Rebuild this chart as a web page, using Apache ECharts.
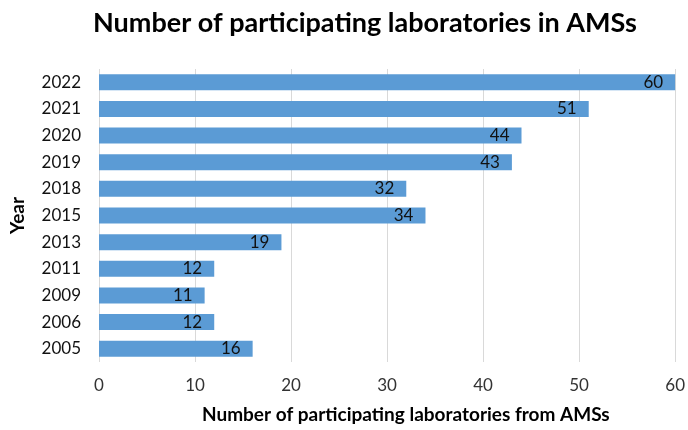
<!DOCTYPE html>
<html><head><meta charset="utf-8">
<script src="https://cdn.jsdelivr.net/npm/echarts@6/dist/echarts.min.js"></script>
<style>html,body{margin:0;padding:0;background:#fff}#c{width:688px;height:430px}</style>
</head><body><div id="c"></div>
<script>
const years = ['2005','2006','2009','2011','2013','2015','2018','2019','2020','2021','2022'];
const labs = [16, 12, 11, 12, 19, 34, 32, 43, 44, 51, 60];
const xTicks = [0, 10, 20, 30, 40, 50, 60];

const chart = echarts.init(document.getElementById('c'), null, {renderer: 'canvas'});
const fontFam = 'Lato, "Open Sans", sans-serif';
chart.setOption({
  animation: false,
  backgroundColor: '#fff',
  title: [{
    text: 'Number of participating laboratories in AMSs',
    left: 88, top: 5,
    textStyle: {fontFamily: fontFam, fontWeight: 'bold', fontSize: 27, color: '#000', letterSpacing: -0.7}
  }, {
    text: 'Number of participating laboratories from AMSs',
    left: 197, top: 400,
    textStyle: {fontFamily: fontFam, fontWeight: 'bold', fontSize: 19, color: '#000', letterSpacing: -0.7}
  }],
  grid: {left: 98, right: 12, top: 69, bottom: 68, containLabel: false},
  xAxis: {
    type: 'value', min: 0, max: 60, interval: 10,
    axisLine: {show: false}, axisTick: {show: false},
    axisLabel: {fontFamily: fontFam, fontSize: 17, color: '#333', margin: 15,
      formatter: v => xTicks.includes(v) ? String(v) : ''},
    splitLine: {show: true, lineStyle: {color: '#d9d9d9', width: 1}}
  },
  yAxis: {
    type: 'category', data: years,
    name: 'Year', nameLocation: 'middle', nameGap: 72, nameRotate: 90,
    nameTextStyle: {fontFamily: fontFam, fontWeight: 'bold', fontSize: 19, color: '#000'},
    axisLine: {show: false}, axisTick: {show: false},
    axisLabel: {fontFamily: fontFam, fontSize: 17, color: '#111', margin: 18}
  },
  series: [{
    type: 'bar', data: labs, barCategoryGap: '40%',
    itemStyle: {color: '#5b9bd5'},
    label: {show: true, position: 'insideRight', distance: 12, fontFamily: fontFam, fontSize: 17, color: '#111'}
  }]
});
</script></body></html>
